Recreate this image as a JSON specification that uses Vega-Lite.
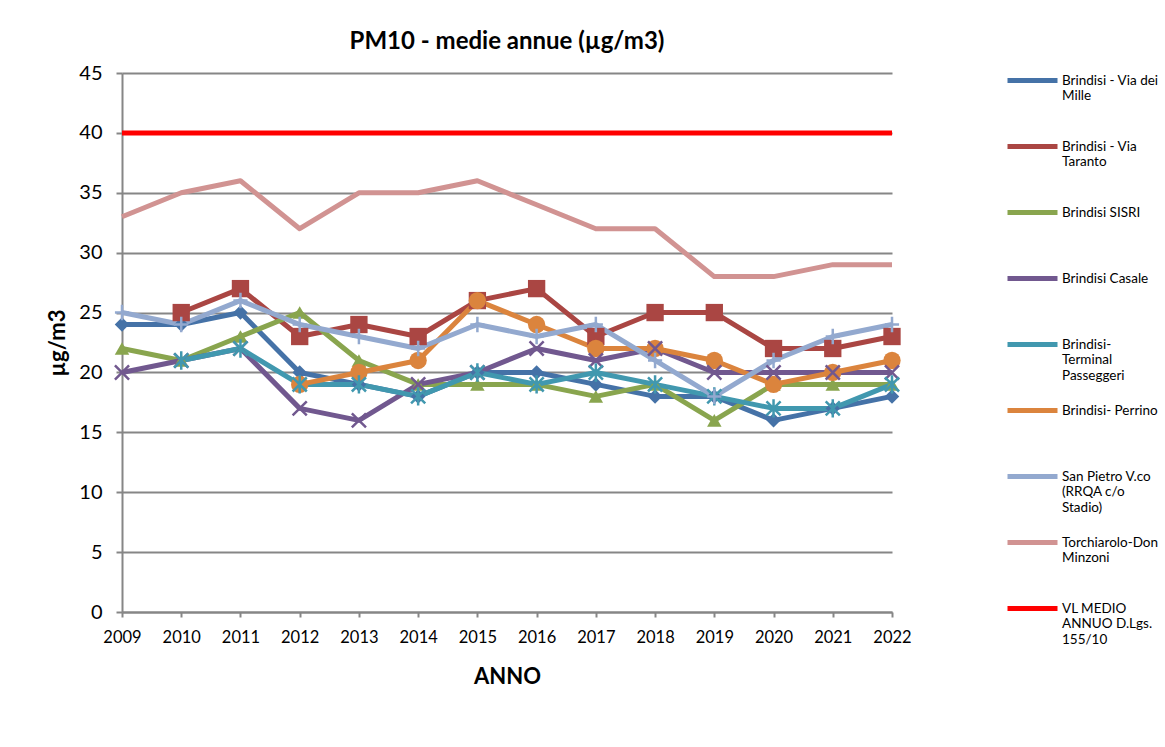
{
  "$schema": "https://vega.github.io/schema/vega-lite/v6.json",
  "autosize": {"type": "none"},
  "width": 770,
  "height": 539,
  "padding": {"left": 122, "top": 73, "right": 273, "bottom": 135},
  "background": "white",
  "config": {
    "font": "Lato",
    "view": {"stroke": null},
    "axis": {"labelFont": "Lato", "titleFont": "Lato", "labelColor": "#000000", "titleColor": "#000000"}
  },
  "title": {"text": "PM10 - medie annue (µg/m3)", "font": "Lato", "fontSize": 24, "fontWeight": "bold", "color": "#000000", "anchor": "middle", "offset": 9},
  "data": {"values": [
    {"year": "2009", "series": "Brindisi - Via dei Mille", "value": 24},
    {"year": "2010", "series": "Brindisi - Via dei Mille", "value": 24},
    {"year": "2011", "series": "Brindisi - Via dei Mille", "value": 25},
    {"year": "2012", "series": "Brindisi - Via dei Mille", "value": 20},
    {"year": "2013", "series": "Brindisi - Via dei Mille", "value": 19},
    {"year": "2014", "series": "Brindisi - Via dei Mille", "value": 18},
    {"year": "2015", "series": "Brindisi - Via dei Mille", "value": 20},
    {"year": "2016", "series": "Brindisi - Via dei Mille", "value": 20},
    {"year": "2017", "series": "Brindisi - Via dei Mille", "value": 19},
    {"year": "2018", "series": "Brindisi - Via dei Mille", "value": 18},
    {"year": "2019", "series": "Brindisi - Via dei Mille", "value": 18},
    {"year": "2020", "series": "Brindisi - Via dei Mille", "value": 16},
    {"year": "2021", "series": "Brindisi - Via dei Mille", "value": 17},
    {"year": "2022", "series": "Brindisi - Via dei Mille", "value": 18},
    {"year": "2010", "series": "Brindisi - Via Taranto", "value": 25},
    {"year": "2011", "series": "Brindisi - Via Taranto", "value": 27},
    {"year": "2012", "series": "Brindisi - Via Taranto", "value": 23},
    {"year": "2013", "series": "Brindisi - Via Taranto", "value": 24},
    {"year": "2014", "series": "Brindisi - Via Taranto", "value": 23},
    {"year": "2015", "series": "Brindisi - Via Taranto", "value": 26},
    {"year": "2016", "series": "Brindisi - Via Taranto", "value": 27},
    {"year": "2017", "series": "Brindisi - Via Taranto", "value": 23},
    {"year": "2018", "series": "Brindisi - Via Taranto", "value": 25},
    {"year": "2019", "series": "Brindisi - Via Taranto", "value": 25},
    {"year": "2020", "series": "Brindisi - Via Taranto", "value": 22},
    {"year": "2021", "series": "Brindisi - Via Taranto", "value": 22},
    {"year": "2022", "series": "Brindisi - Via Taranto", "value": 23},
    {"year": "2009", "series": "Brindisi SISRI", "value": 22},
    {"year": "2010", "series": "Brindisi SISRI", "value": 21},
    {"year": "2011", "series": "Brindisi SISRI", "value": 23},
    {"year": "2012", "series": "Brindisi SISRI", "value": 25},
    {"year": "2013", "series": "Brindisi SISRI", "value": 21},
    {"year": "2014", "series": "Brindisi SISRI", "value": 19},
    {"year": "2015", "series": "Brindisi SISRI", "value": 19},
    {"year": "2016", "series": "Brindisi SISRI", "value": 19},
    {"year": "2017", "series": "Brindisi SISRI", "value": 18},
    {"year": "2018", "series": "Brindisi SISRI", "value": 19},
    {"year": "2019", "series": "Brindisi SISRI", "value": 16},
    {"year": "2020", "series": "Brindisi SISRI", "value": 19},
    {"year": "2021", "series": "Brindisi SISRI", "value": 19},
    {"year": "2022", "series": "Brindisi SISRI", "value": 19},
    {"year": "2009", "series": "Brindisi Casale", "value": 20},
    {"year": "2010", "series": "Brindisi Casale", "value": 21},
    {"year": "2011", "series": "Brindisi Casale", "value": 22},
    {"year": "2012", "series": "Brindisi Casale", "value": 17},
    {"year": "2013", "series": "Brindisi Casale", "value": 16},
    {"year": "2014", "series": "Brindisi Casale", "value": 19},
    {"year": "2015", "series": "Brindisi Casale", "value": 20},
    {"year": "2016", "series": "Brindisi Casale", "value": 22},
    {"year": "2017", "series": "Brindisi Casale", "value": 21},
    {"year": "2018", "series": "Brindisi Casale", "value": 22},
    {"year": "2019", "series": "Brindisi Casale", "value": 20},
    {"year": "2020", "series": "Brindisi Casale", "value": 20},
    {"year": "2021", "series": "Brindisi Casale", "value": 20},
    {"year": "2022", "series": "Brindisi Casale", "value": 20},
    {"year": "2010", "series": "Brindisi- Terminal Passeggeri", "value": 21},
    {"year": "2011", "series": "Brindisi- Terminal Passeggeri", "value": 22},
    {"year": "2012", "series": "Brindisi- Terminal Passeggeri", "value": 19},
    {"year": "2013", "series": "Brindisi- Terminal Passeggeri", "value": 19},
    {"year": "2014", "series": "Brindisi- Terminal Passeggeri", "value": 18},
    {"year": "2015", "series": "Brindisi- Terminal Passeggeri", "value": 20},
    {"year": "2016", "series": "Brindisi- Terminal Passeggeri", "value": 19},
    {"year": "2017", "series": "Brindisi- Terminal Passeggeri", "value": 20},
    {"year": "2018", "series": "Brindisi- Terminal Passeggeri", "value": 19},
    {"year": "2019", "series": "Brindisi- Terminal Passeggeri", "value": 18},
    {"year": "2020", "series": "Brindisi- Terminal Passeggeri", "value": 17},
    {"year": "2021", "series": "Brindisi- Terminal Passeggeri", "value": 17},
    {"year": "2022", "series": "Brindisi- Terminal Passeggeri", "value": 19},
    {"year": "2012", "series": "Brindisi- Perrino", "value": 19},
    {"year": "2013", "series": "Brindisi- Perrino", "value": 20},
    {"year": "2014", "series": "Brindisi- Perrino", "value": 21},
    {"year": "2015", "series": "Brindisi- Perrino", "value": 26},
    {"year": "2016", "series": "Brindisi- Perrino", "value": 24},
    {"year": "2017", "series": "Brindisi- Perrino", "value": 22},
    {"year": "2018", "series": "Brindisi- Perrino", "value": 22},
    {"year": "2019", "series": "Brindisi- Perrino", "value": 21},
    {"year": "2020", "series": "Brindisi- Perrino", "value": 19},
    {"year": "2021", "series": "Brindisi- Perrino", "value": 20},
    {"year": "2022", "series": "Brindisi- Perrino", "value": 21},
    {"year": "2009", "series": "San Pietro V.co (RRQA c/o Stadio)", "value": 25},
    {"year": "2010", "series": "San Pietro V.co (RRQA c/o Stadio)", "value": 24},
    {"year": "2011", "series": "San Pietro V.co (RRQA c/o Stadio)", "value": 26},
    {"year": "2012", "series": "San Pietro V.co (RRQA c/o Stadio)", "value": 24},
    {"year": "2013", "series": "San Pietro V.co (RRQA c/o Stadio)", "value": 23},
    {"year": "2014", "series": "San Pietro V.co (RRQA c/o Stadio)", "value": 22},
    {"year": "2015", "series": "San Pietro V.co (RRQA c/o Stadio)", "value": 24},
    {"year": "2016", "series": "San Pietro V.co (RRQA c/o Stadio)", "value": 23},
    {"year": "2017", "series": "San Pietro V.co (RRQA c/o Stadio)", "value": 24},
    {"year": "2018", "series": "San Pietro V.co (RRQA c/o Stadio)", "value": 21},
    {"year": "2019", "series": "San Pietro V.co (RRQA c/o Stadio)", "value": 18},
    {"year": "2020", "series": "San Pietro V.co (RRQA c/o Stadio)", "value": 21},
    {"year": "2021", "series": "San Pietro V.co (RRQA c/o Stadio)", "value": 23},
    {"year": "2022", "series": "San Pietro V.co (RRQA c/o Stadio)", "value": 24},
    {"year": "2009", "series": "Torchiarolo-Don Minzoni", "value": 33},
    {"year": "2010", "series": "Torchiarolo-Don Minzoni", "value": 35},
    {"year": "2011", "series": "Torchiarolo-Don Minzoni", "value": 36},
    {"year": "2012", "series": "Torchiarolo-Don Minzoni", "value": 32},
    {"year": "2013", "series": "Torchiarolo-Don Minzoni", "value": 35},
    {"year": "2014", "series": "Torchiarolo-Don Minzoni", "value": 35},
    {"year": "2015", "series": "Torchiarolo-Don Minzoni", "value": 36},
    {"year": "2016", "series": "Torchiarolo-Don Minzoni", "value": 34},
    {"year": "2017", "series": "Torchiarolo-Don Minzoni", "value": 32},
    {"year": "2018", "series": "Torchiarolo-Don Minzoni", "value": 32},
    {"year": "2019", "series": "Torchiarolo-Don Minzoni", "value": 28},
    {"year": "2020", "series": "Torchiarolo-Don Minzoni", "value": 28},
    {"year": "2021", "series": "Torchiarolo-Don Minzoni", "value": 29},
    {"year": "2022", "series": "Torchiarolo-Don Minzoni", "value": 29},
    {"year": "2009", "series": "VL MEDIO ANNUO D.Lgs. 155/10", "value": 40},
    {"year": "2010", "series": "VL MEDIO ANNUO D.Lgs. 155/10", "value": 40},
    {"year": "2011", "series": "VL MEDIO ANNUO D.Lgs. 155/10", "value": 40},
    {"year": "2012", "series": "VL MEDIO ANNUO D.Lgs. 155/10", "value": 40},
    {"year": "2013", "series": "VL MEDIO ANNUO D.Lgs. 155/10", "value": 40},
    {"year": "2014", "series": "VL MEDIO ANNUO D.Lgs. 155/10", "value": 40},
    {"year": "2015", "series": "VL MEDIO ANNUO D.Lgs. 155/10", "value": 40},
    {"year": "2016", "series": "VL MEDIO ANNUO D.Lgs. 155/10", "value": 40},
    {"year": "2017", "series": "VL MEDIO ANNUO D.Lgs. 155/10", "value": 40},
    {"year": "2018", "series": "VL MEDIO ANNUO D.Lgs. 155/10", "value": 40},
    {"year": "2019", "series": "VL MEDIO ANNUO D.Lgs. 155/10", "value": 40},
    {"year": "2020", "series": "VL MEDIO ANNUO D.Lgs. 155/10", "value": 40},
    {"year": "2021", "series": "VL MEDIO ANNUO D.Lgs. 155/10", "value": 40},
    {"year": "2022", "series": "VL MEDIO ANNUO D.Lgs. 155/10", "value": 40}
  ]},
  "encoding": {
    "x": {"field": "year", "type": "ordinal", "scale": {"type": "point", "padding": 0},
      "axis": {"title": "ANNO", "titleFontSize": 22, "titleFontWeight": "bold", "titlePadding": 21, "labelAngle": 0, "labelFontSize": 16.5, "labelPadding": 12, "tickSize": 5, "tickColor": "#868686", "tickWidth": 2, "domainColor": "#868686", "domainWidth": 2, "grid": false}},
    "y": {"field": "value", "type": "quantitative", "scale": {"domain": [0, 45], "nice": false, "zero": true},
      "axis": {"title": "µg/m3", "titleFontSize": 22, "titleFontWeight": "bold", "titlePadding": 9, "values": [0, 5, 10, 15, 20, 25, 30, 35, 40, 45], "labelFontSize": 20, "labelPadding": 14, "tickSize": 6, "tickColor": "#868686", "tickWidth": 2, "domainColor": "#868686", "domainWidth": 2, "grid": true, "gridColor": "#868686", "gridWidth": 2}}
  },
  "layer": [
    {
      "mark": {"type": "line", "strokeWidth": 5, "strokeJoin": "round"},
      "encoding": {
        "color": {"field": "series", "type": "nominal",
          "scale": {
            "domain": ["Brindisi - Via dei Mille", "Brindisi - Via Taranto", "Brindisi SISRI", "Brindisi Casale", "Brindisi- Terminal Passeggeri", "Brindisi- Perrino", "San Pietro V.co (RRQA c/o Stadio)", "Torchiarolo-Don Minzoni", "VL MEDIO ANNUO D.Lgs. 155/10"],
            "range": ["#4572A7", "#AA4643", "#89A54E", "#71588F", "#4198AF", "#DB843D", "#93A9CF", "#D19392", "#FF0000"]
          },
          "legend": {
            "title": null, "orient": "none", "legendX": 903, "legendY": 0,
            "symbolType": "M-5,0L5,0", "symbolSize": 100, "symbolStrokeWidth": 5,
            "labelFont": "Lato", "labelFontSize": 13.5, "labelColor": "#000000", "labelLimit": 200, "labelOffset": 22, "labelBaseline": "middle",
            "rowPadding": 18,
            "labelExpr": "datum.label == 'Brindisi - Via dei Mille' ? ['Brindisi - Via dei', 'Mille', ''] : datum.label == 'Brindisi - Via Taranto' ? ['Brindisi - Via', 'Taranto', ''] : datum.label == 'Brindisi- Terminal Passeggeri' ? ['Brindisi-', 'Terminal', 'Passeggeri'] : datum.label == 'San Pietro V.co (RRQA c/o Stadio)' ? ['San Pietro V.co', '(RRQA c/o', 'Stadio)'] : datum.label == 'Torchiarolo-Don Minzoni' ? ['Torchiarolo-Don', 'Minzoni', ''] : datum.label == 'VL MEDIO ANNUO D.Lgs. 155/10' ? ['VL MEDIO', 'ANNUO D.Lgs.', '155/10'] : [datum.label, '', '']"
          }
        }
      }
    },
    {
      "transform": [{"filter": "indexof(['Brindisi - Via dei Mille','Brindisi - Via Taranto','Brindisi SISRI','Brindisi- Perrino'], datum.series) >= 0"}],
      "mark": {"type": "point", "filled": true, "size": 210, "opacity": 1},
      "encoding": {
        "color": {"field": "series", "type": "nominal"},
        "shape": {"field": "series", "type": "nominal",
          "scale": {"domain": ["Brindisi - Via dei Mille", "Brindisi - Via Taranto", "Brindisi SISRI", "Brindisi- Perrino"], "range": ["diamond", "square", "triangle-up", "circle"]},
          "legend": null},
        "size": {"condition": {"test": "datum.series == 'Brindisi- Perrino' || datum.series == 'Brindisi - Via Taranto'", "value": 300}, "value": 210}
      }
    },
    {
      "transform": [{"filter": "indexof(['Brindisi Casale','Brindisi- Terminal Passeggeri','San Pietro V.co (RRQA c/o Stadio)'], datum.series) >= 0"}],
      "mark": {"type": "point", "filled": false, "size": 200, "strokeWidth": 2.5, "opacity": 1},
      "encoding": {
        "color": {"field": "series", "type": "nominal"},
        "shape": {"field": "series", "type": "nominal",
          "scale": {"domain": ["Brindisi Casale", "Brindisi- Terminal Passeggeri", "San Pietro V.co (RRQA c/o Stadio)"], "range": ["M-1,-1L1,1M-1,1L1,-1", "M-1,-1L1,1M-1,1L1,-1M0,-1.3L0,1.3", "M-1,0L1,0M0,-1.1L0,1.1"]},
          "legend": null}
      }
    }
  ],
  "resolve": {"scale": {"shape": "independent"}}
}
